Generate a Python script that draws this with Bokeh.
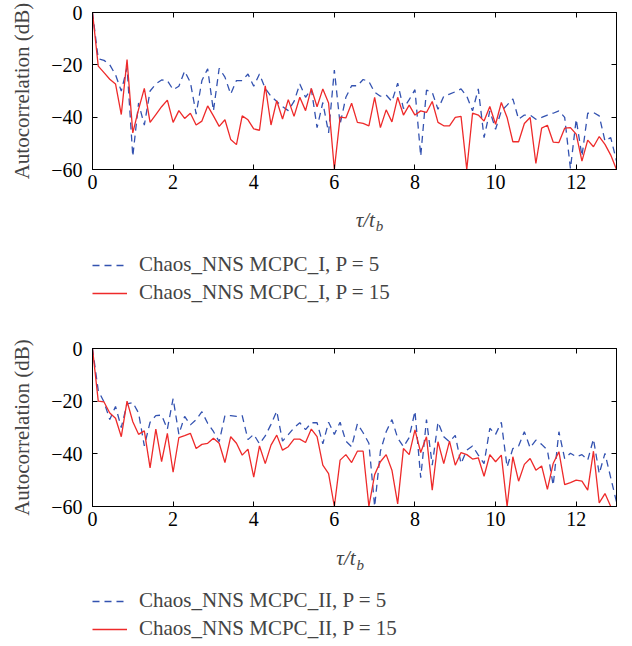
from bokeh.plotting import figure
from bokeh.models import Legend, LegendItem, LinearAxis, Range1d, FixedTicker, Label
from bokeh.layouts import column
from bokeh.embed import file_html
from bokeh.resources import INLINE

# sample grid: tau/t_b in steps of 1/7
N_POINTS = 92
STEP = 1 / 7
tau = [i * STEP for i in range(N_POINTS)]

x_ticks = [0, 2, 4, 6, 8, 10, 12]
y_ticks = [-60, -40, -20, 0]
y_tick_labels = {0: "0", -20: "\u221220", -40: "\u221240", -60: "\u221260"}

# Panel (a): MCPC_I
mcpc1_p5 = [0, -17.7, -18.3, -20, -23.8, -30, -21, -55, -34.6, -43,
            -30, -27.3, -25.8, -26, -29.5, -28.2, -22.4, -26.7, -38.8, -26,
            -21.5, -37.6, -21.3, -24.7, -31.2, -26, -26, -23.5, -28.2, -23.5,
            -29, -32, -34, -36, -37.5, -34, -27.3, -32.4, -29.2, -44,
            -34.4, -46, -22, -42.7, -32.4, -28, -28, -25.6, -26.4, -30.5,
            -32, -31.5, -34, -27, -36.7, -33.3, -29.5, -54.9, -29.7, -30.5,
            -37, -32, -31.2, -30.3, -29.2, -32, -37.6, -29.2, -47.8, -37.6,
            -44.6, -37.6, -35.4, -33, -40.8, -39.2, -39.2, -40.8, -40.1, -39.2,
            -38.5, -37.6, -40.1, -59.7, -40.8, -54.9, -38.5, -38.2, -39.5, -49.1,
            -47.8, -56.8]
mcpc1_p15 = [0, -20.5, -23, -25.5, -27.3, -39, -18, -46, -37, -29,
             -42, -39, -36, -33.5, -42, -37.5, -40.5, -38.5, -43, -41.5,
             -35.7, -39.5, -43.5, -41, -48.5, -50.5, -39.5, -41, -44.5, -45,
             -28, -43, -33.7, -40.7, -33.3, -39.7, -32.4, -37.5, -29, -36,
             -29.2, -34.6, -60, -40, -40.3, -34.7, -42, -42.4, -43.3, -32.4,
             -44, -37.2, -41.8, -32.4, -39.2, -35.4, -39.2, -37.6, -38.2, -34,
             -42, -43.3, -43.3, -40.1, -39.7, -60, -38.5, -39.2, -41.5, -35.9,
             -42.7, -34.4, -40.1, -49.4, -49.4, -42.4, -40.1, -57.7, -44.2, -43.1,
             -49.5, -49.7, -44.2, -44, -46.5, -56.8, -48.8, -51.3, -47.4, -50.4,
             -54.5, -60]

# Panel (b): MCPC_II
mcpc2_p5 = [0, -16, -20.3, -27, -22, -30, -21, -20.5, -24.5, -37,
            -28, -25.5, -25.3, -30.6, -19, -32.6, -25.8, -29, -27, -24,
            -28.4, -31.5, -35.4, -25.5, -25.5, -25.8, -25.5, -34.6, -32.6, -36.2,
            -33.2, -28.8, -23.8, -35.2, -32.7, -30.1, -28.2, -30.8, -28.2, -28.2,
            -36.2, -28, -32.6, -28, -35.2, -37.3, -28.6, -32, -36, -60,
            -39, -31.6, -27, -34, -37.3, -33.8, -23.8, -49.1, -27, -44.3,
            -28, -33.5, -35.4, -33, -43.7, -38.6, -37, -40.5, -43.7, -30.3,
            -32.6, -28, -45, -38, -37, -31.6, -37.7, -34.8, -36.4, -38.6,
            -52, -31.6, -41.8, -39.8, -41.1, -40.3, -42.4, -34.4, -47.5, -39.8,
            -49.1, -58.3]
mcpc2_p15 = [0, -20, -20.3, -24.5, -26.5, -33.5, -20, -27.8, -32.6, -31.3,
             -45.3, -30.6, -43, -32.2, -47, -33.8, -33.1, -32.2, -38, -36.4,
             -36, -34.1, -36, -43.3, -33.5, -36, -40.5, -38.2, -48.8, -37,
             -43.7, -36.7, -32.9, -38.6, -37.3, -34.4, -34.4, -35.7, -30.6, -33.5,
             -44.3, -47.5, -60, -42.4, -40.3, -43.3, -39, -39, -60, -47.9,
             -43, -40.3, -46.2, -59, -38, -40.3, -30.9, -39.5, -33.5, -53.8,
             -35.4, -43.7, -35.2, -44.3, -39.5, -40.3, -42, -41.5, -48.5, -40.3,
             -43, -40.5, -60, -41.1, -50.4, -44, -41.8, -46.2, -44.6, -53.5,
             -43.7, -39.2, -51.7, -50.9, -50, -50.4, -53.8, -39, -58.6, -55.1,
             -60, -62]

labels_a = ["Chaos_NNS MCPC_I, P = 5", "Chaos_NNS MCPC_I, P = 15"]
labels_b = ["Chaos_NNS MCPC_II, P = 5", "Chaos_NNS MCPC_II, P = 15"]

FONT = "Liberation Serif"
BLUE = "#3352b0"
RED = "#ee2a2a"
W = 624
LEFT = 92
RIGHT = 8


def style_axis(ax, ticks, show_labels=True):
    ax.ticker = FixedTicker(ticks=ticks)
    ax.major_tick_in = 5
    ax.major_tick_out = 0
    ax.minor_tick_in = 0
    ax.minor_tick_out = 0
    ax.axis_line_color = "black"
    ax.major_tick_line_color = "black"
    if show_labels:
        ax.major_label_text_font = FONT
        ax.major_label_text_font_size = "20px"
        ax.major_label_text_color = "black"
    else:
        ax.major_label_text_font_size = "1px"
        ax.major_label_text_color = None
        ax.major_label_standoff = 0


def make_plot(y5, y15, height, top):
    p = figure(width=W, height=height,
               min_border_left=LEFT, min_border_right=RIGHT, min_border_top=top,
               min_border_bottom=31,
               x_range=Range1d(0, 13), y_range=Range1d(-60, 0),
               output_backend="svg", toolbar_location=None)
    p.grid.visible = False
    p.outline_line_color = "black"
    p.outline_line_width = 1

    style_axis(p.xaxis[0], x_ticks)
    p.xaxis[0].major_label_standoff = 5
    style_axis(p.yaxis[0], y_ticks)
    p.yaxis[0].major_label_standoff = 10
    p.yaxis[0].major_label_overrides = y_tick_labels
    p.yaxis[0].axis_label = "Autocorrelation (dB)"
    p.yaxis[0].axis_label_text_font = FONT
    p.yaxis[0].axis_label_text_font_style = "normal"
    p.yaxis[0].axis_label_text_font_size = "21px"
    p.yaxis[0].axis_label_standoff = 14

    top_ax = LinearAxis()
    style_axis(top_ax, x_ticks, show_labels=False)
    p.add_layout(top_ax, "above")
    right_ax = LinearAxis()
    style_axis(right_ax, y_ticks, show_labels=False)
    p.add_layout(right_ax, "right")

    p.line(tau, y5, line_color=BLUE, line_width=1.3, line_dash="7 5")
    p.line(tau, y15, line_color=RED, line_width=1.3)
    return p


def make_caption(labels, height, tau_pos, b_pos, legend_loc):
    """Strip under a plot holding the x-axis title and the legend.
    x is in the plot's tau units, y in pixels from the strip's top."""
    c = figure(width=W, height=height, x_range=Range1d(0, 13),
               y_range=Range1d(height, 0), x_axis_type=None, y_axis_type=None,
               min_border_left=LEFT, min_border_right=RIGHT,
               min_border_top=0, min_border_bottom=0,
               output_backend="svg", toolbar_location=None)
    c.grid.visible = False
    c.outline_line_color = None
    c.add_layout(Label(x=tau_pos[0], y=tau_pos[1], text="\u03c4/t",
                       text_font=FONT, text_font_style="italic",
                       text_font_size="21px", text_baseline="alphabetic",
                       text_align="left"))
    c.add_layout(Label(x=b_pos[0], y=b_pos[1], text="b",
                       text_font=FONT, text_font_style="italic",
                       text_font_size="15px", text_baseline="alphabetic",
                       text_align="left"))
    # legend proxies (one NaN point each, so nothing is drawn in the strip)
    g5 = c.line(x=[float("nan")], y=[float("nan")], line_color=BLUE,
                line_width=1.3, line_dash="7 5")
    g15 = c.line(x=[float("nan")], y=[float("nan")], line_color=RED,
                 line_width=1.3)
    legend = Legend(items=[LegendItem(label=labels[0], renderers=[g5]),
                           LegendItem(label=labels[1], renderers=[g15])],
                    location=legend_loc, glyph_width=35, glyph_height=20,
                    label_height=20, label_standoff=12, spacing=3,
                    padding=0, margin=0,
                    label_text_font=FONT, label_text_font_size="21px",
                    border_line_color=None, background_fill_alpha=0)
    c.add_layout(legend)
    return c


pa = make_plot(mcpc1_p5, mcpc1_p15, 200, 12)
ca = make_caption(labels_a, 136, (6.53, 19), (7.03, 25.7), (0, 31))
pb = make_plot(mcpc2_p5, mcpc2_p15, 201, 12)
cb = make_caption(labels_b, 109, (6.05, 20.7), (6.55, 27.4), (0, 5))

layout = column(pa, ca, pb, cb, spacing=0)
open("out.html", "w").write(file_html(layout, INLINE))
